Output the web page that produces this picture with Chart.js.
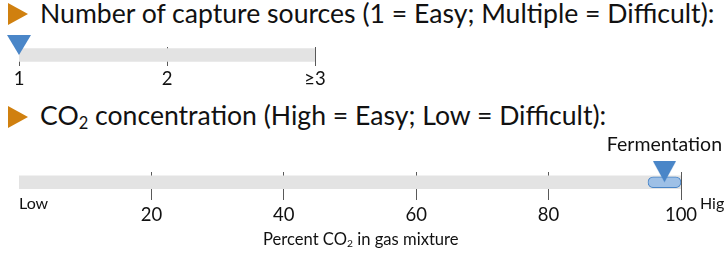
<!DOCTYPE html>
<html>
<head>
<meta charset="utf-8">
<script src="https://cdn.jsdelivr.net/npm/chart.js@4.4.1/dist/chart.umd.min.js"></script>
<style>
  html, body { margin: 0; padding: 0; background: #fff; }
  #wrap { position: relative; width: 725px; height: 255px; overflow: hidden; font-family: Lato, sans-serif; color: #111; }
  canvas { position: absolute; left: 0; }
  .bullet { position: absolute; left: 8px; width: 20px; height: 22px; background: #d0800f;
            clip-path: polygon(0 0, 100% 50%, 0 100%); }
  .title { position: absolute; left: 40px; font-size: 26.6px; line-height: 26px; white-space: nowrap; }
  .title sub, .axis-title sub { font-size: 0.62em; vertical-align: -0.22em; line-height: 0; }
  .axis-title { position: absolute; left: 263px; top: 231px; font-size: 16.6px; line-height: 16px; white-space: nowrap; }
</style>
</head>
<body>
<div id="wrap">
  <div class="bullet" style="top:3px"></div>
  <div class="title" id="title1" style="top:0px"></div>
  <div class="bullet" style="top:106px"></div>
  <div class="title" id="title2" style="top:102px"></div>
  <canvas id="sourcesChart" width="725" height="100" style="top:0"></canvas>
  <canvas id="co2Chart" width="725" height="155" style="top:100px"></canvas>
  <div class="axis-title" id="axisTitle"></div>
</div>
<script>
// capture sources scale
const sourceTicks = [1, 2, 3];
const sourceTickLabels = ["1", "2", "≥3"];
const sourceValue = 1;

// CO2 concentration scale
const co2Scale = [0, 100];
const co2Ticks = [20, 40, 60, 80, 100];
const co2Ends = ["Low", "High"];
const co2Range = [95, 100];
const co2Value = 97.5;
const co2Source = "Fermentation";

const titleSources = "Number of capture sources (1 = Easy; Multiple = Difficult):";
const titleCo2 = "CO<sub>2</sub> concentration (High = Easy; Low = Difficult):";
const axisTitleCo2 = "Percent CO<sub>2</sub> in gas mixture";

const TRACK = "#e3e3e3";
const TICK = "#595959";
const MARKER = "#4a86c8";
const RANGE_FILL = "#9ec0e6";

document.getElementById("title1").innerHTML = titleSources;
document.getElementById("title2").innerHTML = titleCo2;
document.getElementById("axisTitle").innerHTML = axisTitleCo2;

// downward triangle whose tip sits at the image centre
function markerImage(w, h) {
  const c = document.createElement("canvas");
  c.width = w;
  c.height = h * 2;
  const g = c.getContext("2d");
  g.fillStyle = MARKER;
  g.beginPath();
  g.moveTo(0, 0);
  g.lineTo(w, 0);
  g.lineTo(w / 2, h);
  g.closePath();
  g.fill();
  return c;
}

function scaleOptions(ticks, labelFn, fontSize, pad, axisHeight, min, max) {
  return {
    x: {
      type: "linear",
      min: min,
      max: max,
      z: 1,
      border: { display: false },
      grid: { color: TICK, lineWidth: 1, drawTicks: false },
      afterBuildTicks: (s) => { s.ticks = ticks.map(v => ({ value: v })); },
      afterFit: (s) => { s.height = axisHeight; },
      ticks: {
        color: "#111",
        padding: pad,
        maxRotation: 0,
        autoSkip: false,
        font: { family: "Lato, sans-serif", size: fontSize },
        callback: labelFn
      }
    }
  };
}

Chart.defaults.animation = false;
Chart.defaults.plugins.legend.display = false;
Chart.defaults.plugins.tooltip.enabled = false;

// --- number of capture sources
const topOpts = scaleOptions(
  sourceTicks,
  (v) => sourceTickLabels[sourceTicks.indexOf(v)],
  18.5, 2, 34,
  sourceTicks[0], sourceTicks[sourceTicks.length - 1]
);
topOpts.y = { type: "linear", min: -12.5, max: 6.5, display: false };

new Chart(document.getElementById("sourcesChart"), {
  type: "bar",
  data: {
    datasets: [
      {
        type: "scatter",
        data: [{ x: sourceValue, y: 0 }],
        pointStyle: markerImage(24, 20),
        clip: false,
        order: 0
      },
      {
        data: [{ x: [sourceTicks[0], sourceTicks[sourceTicks.length - 1]], y: 0 }],
        backgroundColor: TRACK,
        barThickness: 13,
        grouped: false,
        order: 2
      }
    ]
  },
  options: {
    responsive: false,
    indexAxis: "y",
    layout: { padding: { top: 47, bottom: 0, left: 19, right: 410 } },
    scales: topOpts
  }
});

// --- CO2 concentration
const endLabels = {
  id: "endLabels",
  afterDraw(chart) {
    const { ctx, scales: { x } } = chart;
    ctx.save();
    ctx.fillStyle = "#111";
    ctx.textBaseline = "middle";
    ctx.font = "16px Lato, sans-serif";
    ctx.textAlign = "left";
    ctx.fillText(co2Ends[0], x.getPixelForValue(co2Scale[0]), 104);
    ctx.fillText(co2Ends[1], x.getPixelForValue(co2Scale[1]) + 19, 104);
    ctx.font = "19.5px Lato, sans-serif";
    ctx.textAlign = "center";
    ctx.fillText(co2Source, x.getPixelForValue(co2Value), 45);
    ctx.restore();
  }
};

const botOpts = scaleOptions(co2Ticks, (v) => String(v), 18.5, 4, 55, co2Scale[0], co2Scale[1]);
botOpts.y = { type: "linear", min: -21.5, max: 6.5, display: false };

new Chart(document.getElementById("co2Chart"), {
  type: "bar",
  data: {
    datasets: [
      {
        type: "scatter",
        data: [{ x: co2Value, y: 0 }],
        pointStyle: markerImage(23, 21),
        clip: false,
        order: 0
      },
      {
        data: [{ x: co2Range, y: 0 }],
        backgroundColor: RANGE_FILL,
        borderColor: MARKER,
        borderWidth: 1,
        borderRadius: 6,
        borderSkipped: false,
        barThickness: 11,
        grouped: false,
        order: 1
      },
      {
        data: [{ x: co2Scale, y: 0 }],
        backgroundColor: TRACK,
        barThickness: 13,
        grouped: false,
        order: 2
      }
    ]
  },
  options: {
    responsive: false,
    indexAxis: "y",
    layout: { padding: { top: 72, bottom: 0, left: 19, right: 44 } },
    scales: botOpts
  },
  plugins: [endLabels]
});
</script>
</body>
</html>
